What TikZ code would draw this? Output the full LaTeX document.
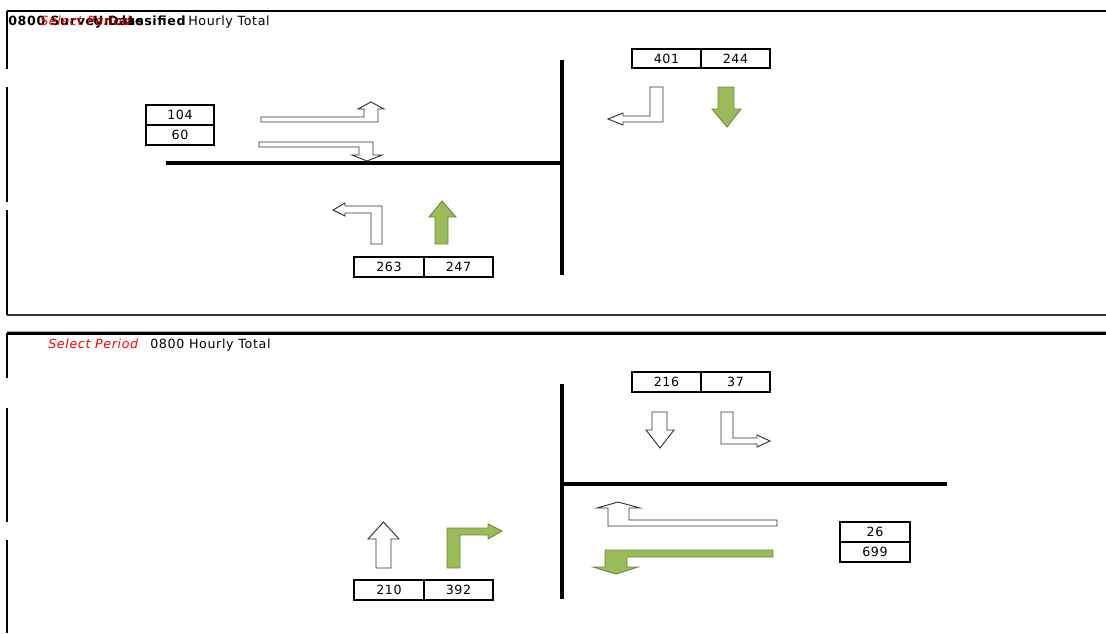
\documentclass[tikz,border=0pt]{standalone}
\usepackage{fontspec}
\setmainfont{DejaVu Sans}
\newfontfamily\lbl[LetterSpace=5]{DejaVu Sans}
\definecolor{flowgreen}{HTML}{9BBB59}
\definecolor{flowedge}{HTML}{6F8A3C}
\newcommand\lblsize{\lbl\fontsize{9.5pt}{11pt}\selectfont}
\tikzset{
  road/.style={line width=3pt, black},
  panelline/.style={line width=0.8pt, black},
  valbox/.style={draw, line width=1.3pt, inner sep=0pt, minimum height=15pt,
    font=\lblsize},
  hdr/.style={inner sep=0pt, anchor=base west, font=\lblsize},
  plainflow/.style={draw=black!80, line width=0.7pt, fill=white, line join=miter},
  mainflow/.style={draw=flowedge, line width=0.7pt, fill=flowgreen, line join=miter}
}
\begin{document}
\begin{tikzpicture}[x=0.75pt, y=-0.75pt]
\useasboundingbox (0,0) rectangle (1106,633);

% ---------- upper panel frame ----------
\draw[panelline] (7,11) -- (1106,11);
\draw[panelline] (7,11) -- (7,69);
\draw[panelline] (7,87) -- (7,202);
\draw[panelline] (7,210) -- (7,315);
\draw[line width=1.6pt, black!80] (7,315) -- (1106,315);

% header: several captions printed on top of each other
\node[hdr, font=\lblsize\bfseries] (h2) at (8,25) {0800 Survey Date};
\node[hdr, font=\lblsize\bfseries, anchor=base east] (h3) at (186,25) {Unclassified};
\node[hdr, red, font=\lblsize\itshape] (h1) at (40,25) {Select Period};
\node[hdr] (h7) at (188,25) {Hourly Total};

% roads
\draw[road] (562,60) -- (562,275);
\draw[road] (166,163) -- (562,163);

% counts
\node[valbox, minimum width=51pt] (wa) at (180,115) {104};
\node[valbox, minimum width=51pt] (wb) at (180,135) {60};
\node[valbox, minimum width=52pt, minimum height=14.5pt] (na) at (666.5,58.5) {401};
\node[valbox, minimum width=52pt, minimum height=14.5pt] (nb) at (735.5,58.5) {244};
\node[valbox, minimum width=52pt, minimum height=14.5pt] (sa) at (389,267) {263};
\node[valbox, minimum width=52pt, minimum height=14.5pt] (sb) at (458.5,267) {247};

% turning movements
\draw[plainflow] (261,117) -- (364,117) -- (364,109) -- (358,109) -- (371,102)
  -- (384,109) -- (378,109) -- (378,122) -- (261,122) -- cycle;
\draw[plainflow] (259,142) -- (373,142) -- (373,155) -- (382,155) -- (367,161)
  -- (352,155) -- (359,155) -- (359,147) -- (259,147) -- cycle;
\draw[plainflow] (382,244) -- (382,206) -- (345,206) -- (345,203) -- (333,210)
  -- (345,216) -- (345,213) -- (371,213) -- (371,244) -- cycle;
\draw[mainflow] (435,244) -- (435,217) -- (429,217) -- (442,201) -- (456,217)
  -- (448,217) -- (448,244) -- cycle;
\draw[plainflow] (650,87) -- (663,87) -- (663,122) -- (623,122) -- (623,125)
  -- (608,119) -- (623,113) -- (623,116) -- (650,116) -- cycle;
\draw[mainflow] (718,87) -- (734,87) -- (734,109) -- (741,109) -- (727,127)
  -- (712,109) -- (718,109) -- cycle;

% ---------- lower panel frame ----------
\draw[line width=1pt, black!35] (7,331.5) -- (1106,331.5);
\draw[line width=1.6pt, black] (7,333.5) -- (1106,333.5);
\draw[panelline] (7,333) -- (7,378);
\draw[panelline] (7,408) -- (7,522);
\draw[panelline] (7,540) -- (7,633);

\node[hdr, red, font=\lblsize\itshape] (p1) at (48,348) {Select Period};
\node[hdr] (p2) at (150,348) {0800 Hourly Total};

% roads
\draw[road] (562,384) -- (562,599);
\draw[road] (562,484) -- (947,484);

% counts
\node[valbox, minimum width=52pt] (nc) at (666.5,382) {216};
\node[valbox, minimum width=52pt] (nd) at (735.5,382) {37};
\node[valbox, minimum width=52pt] (sc) at (389,590) {210};
\node[valbox, minimum width=52pt] (sd) at (458.5,590) {392};
\node[valbox, minimum width=52.5pt] (ec) at (875,532) {26};
\node[valbox, minimum width=52.5pt] (ed) at (875,552) {699};

% turning movements
\draw[plainflow] (652,412) -- (667,412) -- (667,430) -- (674,430) -- (660,448)
  -- (646,430) -- (652,430) -- cycle;
\draw[plainflow] (721,412) -- (733,412) -- (733,438) -- (757,438) -- (757,435)
  -- (770,441) -- (757,447) -- (757,444) -- (721,444) -- cycle;
\draw[plainflow] (376,568) -- (376,539) -- (368,539) -- (383.5,522) -- (399,539)
  -- (391,539) -- (391,568) -- cycle;
\draw[mainflow] (447,568) -- (447,528) -- (488,528) -- (488,524) -- (502,531)
  -- (488,539) -- (488,535) -- (460,535) -- (460,568) -- cycle;
\draw[plainflow] (777,520) -- (629,520) -- (629,508) -- (640,508) -- (618,502)
  -- (597,508) -- (608,508) -- (608,526) -- (777,526) -- cycle;
\draw[mainflow] (773,550) -- (773,557) -- (627,557) -- (627,567) -- (638,567)
  -- (616,574) -- (593,567) -- (605,567) -- (605,550) -- cycle;
\end{tikzpicture}
\end{document}
